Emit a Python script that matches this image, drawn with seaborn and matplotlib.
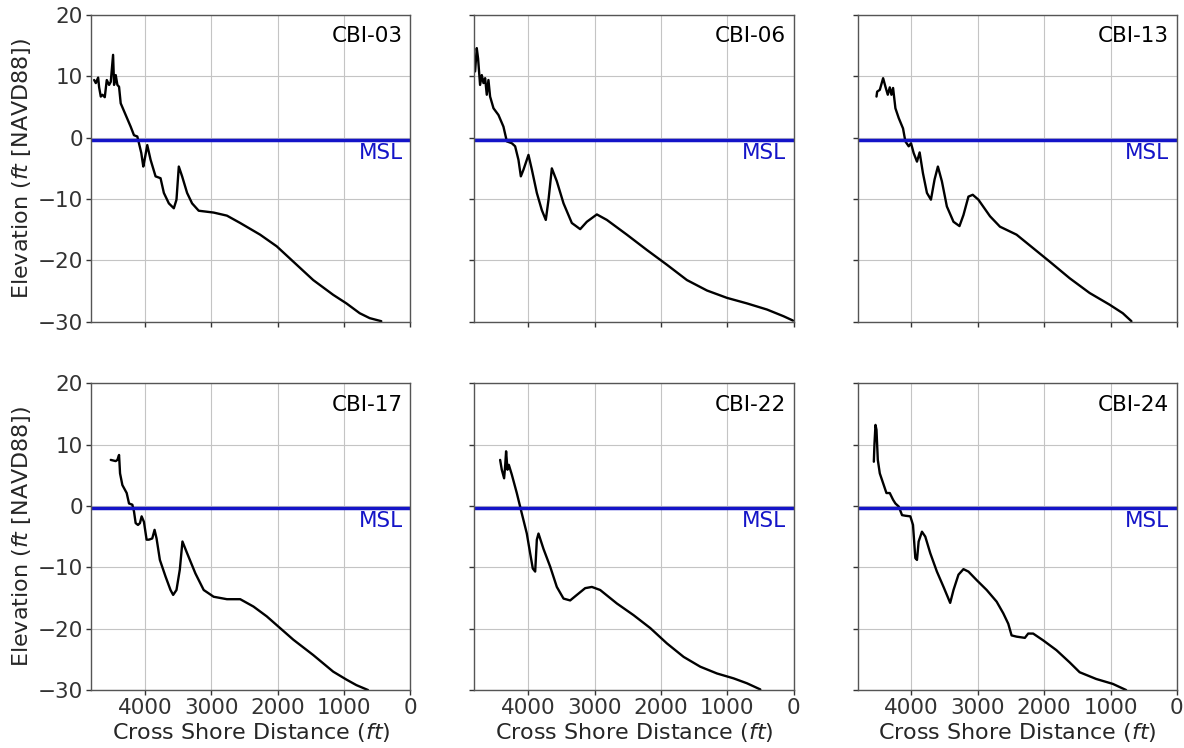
import numpy as np
import pandas as pd
import seaborn as sns
import matplotlib.pyplot as plt

# Beach profiles, cross shore distance (ft) vs elevation (ft NAVD88)
profiles = ['CBI-03', 'CBI-06', 'CBI-13', 'CBI-17', 'CBI-22', 'CBI-24']
msl = -0.3

cbi03_x = [4765, 4740, 4705, 4690, 4665, 4640, 4605, 4575, 4540, 4515, 4480, 4465, 4440,
           4415, 4390, 4365, 4290, 4215, 4165, 4115, 4090, 4055, 4025, 4005, 3965, 3915,
           3840, 3765, 3715, 3640, 3565, 3525, 3490, 3440, 3365, 3290, 3190, 2965, 2765,
           2565, 2265, 2015, 1765, 1465, 1165, 965, 765, 615, 440]
cbi03_z = [9.4, 8.9, 9.8, 8.2, 6.7, 7.0, 6.6, 9.4, 8.6, 9.1, 13.5, 8.6, 10.2,
           8.6, 8.3, 5.6, 3.7, 1.8, 0.4, 0.2, -0.9, -2.5, -4.7, -3.6, -1.2, -3.6,
           -6.3, -6.6, -9.0, -10.7, -11.5, -10.1, -4.7, -6.3, -9.0, -10.7, -11.9, -12.2, -12.7,
           -13.9, -15.8, -17.7, -20.2, -23.2, -25.6, -27.0, -28.6, -29.4, -29.9]

cbi06_x = [4799, 4774, 4754, 4724, 4698, 4673, 4648, 4623, 4598, 4573, 4522, 4447, 4372,
           4321, 4246, 4196, 4146, 4110, 4070, 3995, 3944, 3869, 3794, 3734, 3693, 3643,
           3568, 3467, 3342, 3216, 3116, 2965, 2814, 2513, 2211, 1910, 1608, 1306, 1005,
           704, 402, 151, 10]
cbi06_z = [10.8, 14.6, 12.9, 8.6, 10.2, 8.9, 9.7, 7.0, 9.4, 6.7, 4.8, 3.7, 1.8,
           -0.6, -0.9, -1.4, -3.6, -6.3, -5.2, -2.8, -5.2, -9.0, -11.8, -13.4, -10.1, -5.0,
           -7.1, -10.7, -13.9, -14.9, -13.7, -12.5, -13.4, -15.8, -18.3, -20.7, -23.2, -24.9, -26.1,
           -27.0, -28.0, -29.1, -29.8]

cbi13_x = [4525, 4515, 4475, 4425, 4390, 4355, 4325, 4300, 4275, 4240, 4190, 4125, 4090,
           4040, 4005, 3965, 3915, 3875, 3825, 3765, 3705, 3650, 3600, 3540, 3465, 3365,
           3275, 3215, 3140, 3075, 2990, 2815, 2665, 2415, 2165, 1915, 1615, 1315, 1015,
           815, 685]
cbi13_z = [6.7, 7.5, 7.8, 9.7, 8.3, 7.0, 8.2, 7.0, 8.1, 4.8, 3.2, 1.5, -0.6,
           -1.4, -0.9, -2.5, -3.9, -2.4, -5.8, -9.0, -10.1, -6.8, -4.7, -7.1, -11.2, -13.7,
           -14.4, -12.6, -9.6, -9.3, -10.1, -12.8, -14.5, -15.8, -18.0, -20.2, -22.9, -25.3, -27.2,
           -28.6, -29.9]

cbi17_x = [4515, 4440, 4415, 4390, 4375, 4340, 4275, 4240, 4190, 4165, 4140, 4105, 4075,
           4050, 4015, 3975, 3940, 3890, 3855, 3825, 3775, 3690, 3615, 3575, 3525, 3475,
           3435, 3365, 3240, 3115, 2965, 2765, 2565, 2365, 2165, 1965, 1765, 1465, 1165,
           965, 815, 640]
cbi17_z = [7.5, 7.3, 7.5, 8.3, 5.3, 3.4, 2.1, 0.4, 0.2, -0.9, -2.8, -3.1, -2.8,
           -1.7, -2.6, -5.5, -5.5, -5.3, -3.9, -5.3, -8.8, -11.5, -13.7, -14.5, -13.7, -10.4,
           -5.8, -7.7, -11.0, -13.7, -14.8, -15.2, -15.2, -16.4, -18.0, -19.9, -21.8, -24.3, -27.0,
           -28.3, -29.2, -30.0]

cbi22_x = [4422, 4397, 4362, 4347, 4332, 4311, 4291, 4246, 4171, 4096, 4020, 3970, 3930,
           3894, 3869, 3844, 3769, 3668, 3568, 3467, 3367, 3266, 3141, 3040, 2915, 2663,
           2412, 2161, 1910, 1658, 1407, 1156, 905, 704, 503]
cbi22_z = [7.5, 5.9, 4.5, 6.4, 8.9, 5.9, 6.7, 5.1, 2.1, -1.2, -4.5, -7.7, -10.2,
           -10.7, -5.5, -4.5, -7.0, -9.9, -13.2, -15.1, -15.4, -14.5, -13.4, -13.2, -13.7, -15.9,
           -17.8, -19.9, -22.4, -24.6, -26.2, -27.3, -28.1, -28.9, -29.9]

cbi24_x = [4565, 4555, 4540, 4525, 4505, 4475, 4425, 4375, 4325, 4275, 4240, 4190, 4140,
           4090, 4015, 3975, 3940, 3915, 3890, 3840, 3790, 3715, 3615, 3515, 3415, 3365,
           3290, 3215, 3140, 3015, 2865, 2715, 2615, 2540, 2490, 2415, 2290, 2240, 2165,
           2015, 1815, 1615, 1465, 1215, 965, 765]
cbi24_z = [7.2, 10.2, 13.2, 12.4, 7.5, 5.3, 3.7, 2.1, 2.1, 1.0, 0.4, -0.1, -1.5,
           -1.6, -1.7, -3.1, -8.5, -8.8, -5.8, -4.2, -5.0, -7.7, -10.7, -13.2, -15.8, -13.7,
           -11.2, -10.3, -10.7, -12.1, -13.7, -15.6, -17.5, -19.2, -21.1, -21.3, -21.5, -20.8, -20.8,
           -21.9, -23.5, -25.5, -27.1, -28.2, -29.0, -30.0]

xs = [cbi03_x, cbi06_x, cbi13_x, cbi17_x, cbi22_x, cbi24_x]
zs = [cbi03_z, cbi06_z, cbi13_z, cbi17_z, cbi22_z, cbi24_z]

df = pd.concat([pd.DataFrame({'profile': p, 'dist': x, 'elev': z})
                for p, x, z in zip(profiles, xs, zs)], ignore_index=True)

sns.set_style('whitegrid', {'axes.edgecolor': '#555555', 'grid.color': '#c4c4c4',
                            'xtick.bottom': True, 'ytick.left': True,
                            'xtick.color': '#333333', 'ytick.color': '#333333'})
plt.rcParams['font.family'] = ['DejaVu Sans']
plt.rcParams['mathtext.fontset'] = 'dejavusans'

fig, axes = plt.subplots(2, 3, figsize=(11.84, 7.48), dpi=100, sharex=True, sharey=True)
fig.subplots_adjust(left=0.077, right=0.994, top=0.980, bottom=0.0775,
                    wspace=0.2, hspace=0.2)

for ax, name in zip(axes.flat, profiles):
    sub = df[df.profile == name]
    sns.lineplot(data=sub, x='dist', y='elev', ax=ax, sort=False, estimator=None,
                 color='black', linewidth=1.7)
    ax.axhline(msl, color='#1414c8', linewidth=2.5)
    ax.text(0.975, 0.93, name, transform=ax.transAxes, ha='right', va='center',
            fontsize=15.5, color='black')
    ax.text(0.975, -0.9, 'MSL', transform=ax.get_yaxis_transform(), ha='right', va='top',
            fontsize=15.5, color='#1414c8')
    ax.set_xlim(4810, 0)
    ax.set_ylim(-30, 20)
    ax.set_xticks([4000, 3000, 2000, 1000, 0])
    ax.set_yticks([20, 10, 0, -10, -20, -30])
    ax.tick_params(labelsize=15.5, length=3.5, width=1, pad=2.5)
    ax.set_xlabel('')
    ax.set_ylabel('')
    for s in ax.spines.values():
        s.set_linewidth(1.0)

for ax in axes[:, 0]:
    ax.set_ylabel('Elevation ($ft$ [NAVD88])', fontsize=16, labelpad=3)
for ax in axes[1, :]:
    ax.set_xlabel('Cross Shore Distance ($ft$)', fontsize=16, labelpad=2)

fig.savefig('out.png', dpi=100)
